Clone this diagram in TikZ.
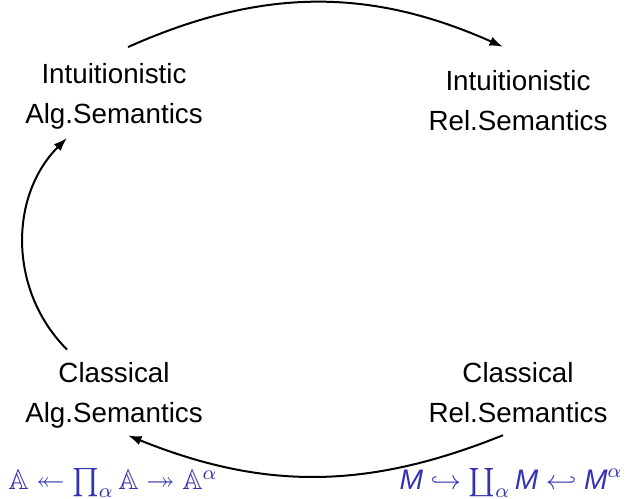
\documentclass[tikz,border=0pt]{standalone}
\usepackage{amsmath,amssymb}
\usepackage{fontspec}
\setmainfont{Liberation Sans}
\usetikzlibrary{arrows.meta}
\definecolor{Struct}{RGB}{51,51,178}
\newcommand{\Msf}{\text{\itshape M}}
\tikzset{
  sem/.style={align=center,font=\fontsize{11.1}{16}\selectfont,inner sep=4pt},
  eqn/.style={text=Struct,font=\fontsize{11.3}{13}\selectfont,inner sep=0pt},
  flow/.style={-{Latex[length=5.4pt,width=3.8pt]},line width=.8pt}
}
\begin{document}
\begin{tikzpicture}[x=0.4pt,y=0.4pt]
        \useasboundingbox (0,0) rectangle (628,499);
        \node[sem] (ia) at (114,402.5) {Intuitionistic\\Alg.Semantics};
        \node[sem] (ir) at (518,398.5) {Intuitionistic\\Rel.Semantics};
        \node[sem] (ca) at (114,104) {Classical\\Alg.Semantics};
        \node[sem] (cr) at (518,106.5) {Classical\\Rel.Semantics};
        \node[eqn] (lalg) at (113,16) {$\mathbb{A}\twoheadleftarrow\prod_\alpha\mathbb{A}\twoheadrightarrow\mathbb{A}^\alpha$};
        \node[eqn] (rrel) at (511,16) {$\Msf\hookrightarrow\coprod_\alpha\Msf\hookleftarrow\Msf^\alpha$};
        \draw[flow] ([shift={(14,6)}]ia.north) to[out=24,in=156] ([shift={(-15,13)}]ir.north);
        \draw[flow] ([shift={(-47,2)}]ca.north) to[out=135,in=225] ([shift={(-47,2)}]ia.south);
        \draw[flow] ([shift={(-15,-2)}]cr.south) to[out=202,in=338] ([shift={(14,3)}]ca.south);
      \end{tikzpicture}
\end{document}
